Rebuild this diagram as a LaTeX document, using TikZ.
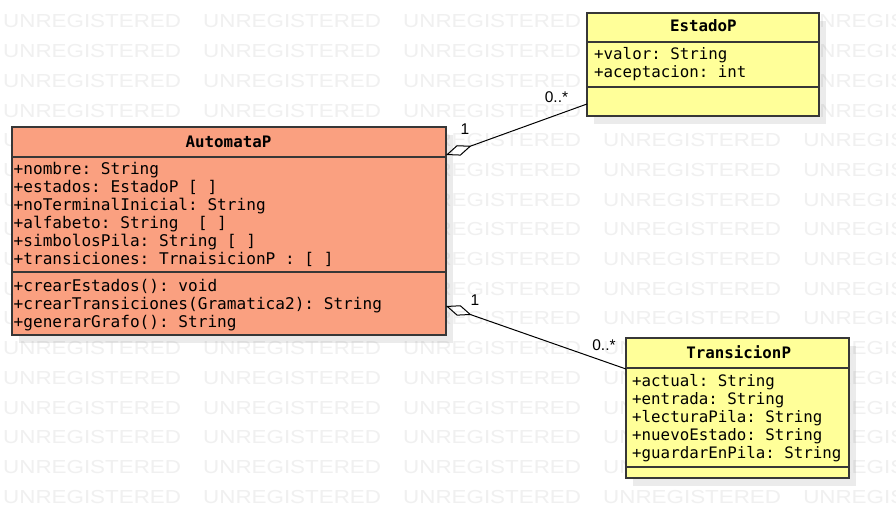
\documentclass[tikz,border=0pt]{standalone}
\usepackage{fontspec}
\setmainfont{Liberation Sans}
\setmonofont{DejaVu Sans Mono}
\usetikzlibrary{arrows.meta,shadows}

\definecolor{salmon}{RGB}{250,160,128}
\definecolor{paleyellow}{RGB}{255,255,153}
\definecolor{boxline}{RGB}{55,55,55}
\definecolor{stampgray}{RGB}{240,240,240}

\tikzset{
  classbox/.style={draw=boxline, line width=1.3pt, inner sep=0pt, outer sep=0pt, anchor=north west,
    drop shadow={shadow xshift=7pt, shadow yshift=-8pt, fill=black, opacity=0.08}},
  divider/.style={draw=boxline, line width=1.3pt},
  member/.style={anchor=base west, inner sep=0pt, font=\ttfamily\fontsize{15.8}{18}\selectfont},
  bigmember/.style={member, font=\ttfamily\fontsize{16.1}{18}\selectfont},
  classname/.style={anchor=base, inner sep=0pt, font=\ttfamily\bfseries\fontsize{15.8}{18}\selectfont},
  mult/.style={inner sep=0pt, font=\fontsize{15.5}{18}\selectfont},
  stamp/.style={anchor=west, inner sep=0pt, xscale=1.19, text=stampgray, font=\fontsize{18.8}{20}\selectfont},
  aggr/.style={{Diamond[open, length=27pt, width=11pt]}-, color=black, line width=1pt},
}

\begin{document}
\begin{tikzpicture}[x=1pt, y=-1pt]
  \useasboundingbox[fill=white] (0,0) rectangle (896,526);

  % watermark in the back
  \foreach \r in {0,...,16}
    \foreach \c in {0,...,4}
      \node[stamp] (stamp-\r-\c) at (3+200*\c, 21.5+29.7*\r) {UNREGISTERED};

  % AutomataP
  \node[classbox, fill=salmon, minimum width=434pt, minimum height=208pt] (automata) at (12,127) {};
  \draw[divider] ([yshift=-30pt]automata.north west) -- ([yshift=-30pt]automata.north east);
  \draw[divider] ([yshift=-145pt]automata.north west) -- ([yshift=-145pt]automata.north east);
  \node[classname] (automataname) at (228.5,147.7) {AutomataP};
  \foreach \txt [count=\i from 0] in {{+nombre: String}, {+estados: EstadoP [ ]},
      {+noTerminalInicial: String}, {+alfabeto: String~ [ ]},
      {+simbolosPila: String [ ]}, {+transiciones: TrnaisicionP : [ ]}}
    \node[bigmember] (automataattr\i) at (13.5, 175+18*\i) {\txt};
  \foreach \txt [count=\i from 0] in {{+crearEstados(): void},
      {+crearTransiciones(Gramatica2): String}, {+generarGrafo(): String}}
    \node[bigmember] (automataop\i) at (13.5, 291.7+18*\i) {\txt};

  % EstadoP
  \node[classbox, fill=paleyellow, minimum width=232pt, minimum height=103pt] (estado) at (587,13) {};
  \draw[divider] ([yshift=-29pt]estado.north west) -- ([yshift=-29pt]estado.north east);
  \draw[divider] ([yshift=-74pt]estado.north west) -- ([yshift=-74pt]estado.north east);
  \node[classname] (estadoname) at (703.3,31.7) {EstadoP};
  \node[member] (estadoattr0) at (594,59.3) {+valor: String};
  \node[member] (estadoattr1) at (594,77.3) {+aceptacion: int};

  % TransicionP
  \node[classbox, fill=paleyellow, minimum width=223pt, minimum height=140pt] (transicion) at (626,338) {};
  \draw[divider] ([yshift=-30pt]transicion.north west) -- ([yshift=-30pt]transicion.north east);
  \draw[divider, line width=2pt] ([yshift=-128.5pt]transicion.north west) -- ([yshift=-128.5pt]transicion.north east);
  \node[classname] (transicionname) at (738.7,358.3) {TransicionP};
  \foreach \txt [count=\i from 0] in {{+actual: String}, {+entrada: String},
      {+lecturaPila: String}, {+nuevoEstado: String}, {+guardarEnPila: String}}
    \node[member] (transicionattr\i) at (632, 386.7+18*\i) {\txt};

  % aggregations
  \draw[aggr] ([yshift=-28pt]automata.north east) -- ([yshift=12pt]estado.south west);
  \draw[aggr] ([yshift=29pt]automata.south east) -- ([yshift=-31pt]transicion.north west);

  \node[mult] (estadoone) at (465,129) {1};
  \node[mult] (estadomany) at (556.5,97) {0..*};
  \node[mult] (transicionone) at (475,300) {1};
  \node[mult] (transicionmany) at (604,345) {0..*};
\end{tikzpicture}
\end{document}
